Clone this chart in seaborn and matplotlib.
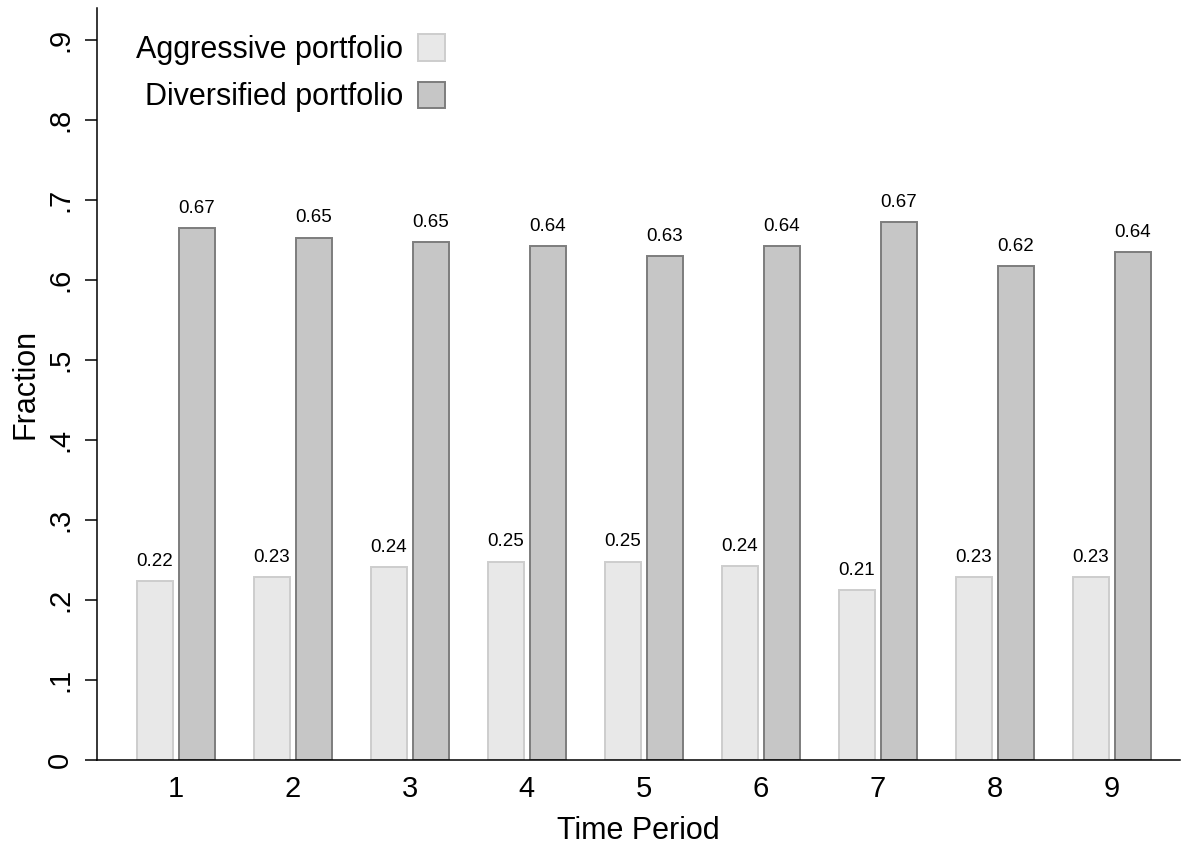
import pandas as pd
import matplotlib.pyplot as plt
import seaborn as sns

# values
periods = ['1', '2', '3', '4', '5', '6', '7', '8', '9']
aggressive = [0.224, 0.229, 0.241, 0.248, 0.248, 0.242, 0.212, 0.229, 0.229]
diversified = [0.665, 0.653, 0.647, 0.642, 0.630, 0.642, 0.672, 0.617, 0.635]
series_names = ['Aggressive portfolio', 'Diversified portfolio']
ytick_vals = [0, .1, .2, .3, .4, .5, .6, .7, .8, .9]
ytick_labels = ['0', '.1', '.2', '.3', '.4', '.5', '.6', '.7', '.8', '.9']

# long format for seaborn
df = pd.DataFrame({
    'period': periods * 2,
    'fraction': aggressive + diversified,
    'portfolio': [series_names[0]] * len(periods) + [series_names[1]] * len(periods),
})

sns.set_style('ticks')
plt.rcParams['font.family'] = ['Liberation Sans', 'DejaVu Sans']
for key in ['text.color', 'axes.labelcolor', 'xtick.color', 'ytick.color']:
    plt.rcParams[key] = 'black'

fig = plt.figure(figsize=(11.85, 8.48), dpi=100)
ax = fig.add_axes([0.0819, 0.1038, 0.9135, 0.8868])

fills = ['#e8e8e8', '#c6c6c6']
edges = ['#cdcdcd', '#7d7d7d']
sns.barplot(data=df, x='period', y='fraction', hue='portfolio', order=periods,
            hue_order=series_names, palette=fills, width=0.72, gap=0.14,
            saturation=1, ax=ax)

for cont, ec in zip(ax.containers, edges):
    for bar in cont:
        bar.set_edgecolor(ec)
        bar.set_linewidth(1.4)
    ax.bar_label(cont, fmt='%.2f', padding=8, fontsize=13.5)

# legend: labels on the left, boxes on the right
handles, labels = ax.get_legend_handles_labels()
for h, ec in zip(handles, edges):
    h.set_edgecolor(ec)
    h.set_linewidth(1.4)
ax.legend(handles, labels, loc='upper left', bbox_to_anchor=(0.036, 0.965),
          frameon=False, markerfirst=False, fontsize=22, borderpad=0,
          borderaxespad=0, handlelength=0.88, handleheight=0.95,
          handletextpad=0.5, labelspacing=0.55)

ax.set_xlim(-0.675, 8.58)
ax.set_ylim(0, 0.94)
ax.set_yticks(ytick_vals)
ax.set_yticklabels(ytick_labels, rotation=90, va='center')
ax.tick_params(axis='y', length=8.6, width=1.1, pad=8, labelsize=21)
ax.tick_params(axis='x', length=0, pad=11, labelsize=21)
ax.set_xlabel('Time Period', fontsize=22, labelpad=9)
ax.set_ylabel('Fraction', fontsize=22, labelpad=4)

sns.despine(ax=ax)
for side in ['left', 'bottom']:
    ax.spines[side].set_linewidth(1.1)
    ax.spines[side].set_color('black')

plt.savefig('out.png', dpi=100)
